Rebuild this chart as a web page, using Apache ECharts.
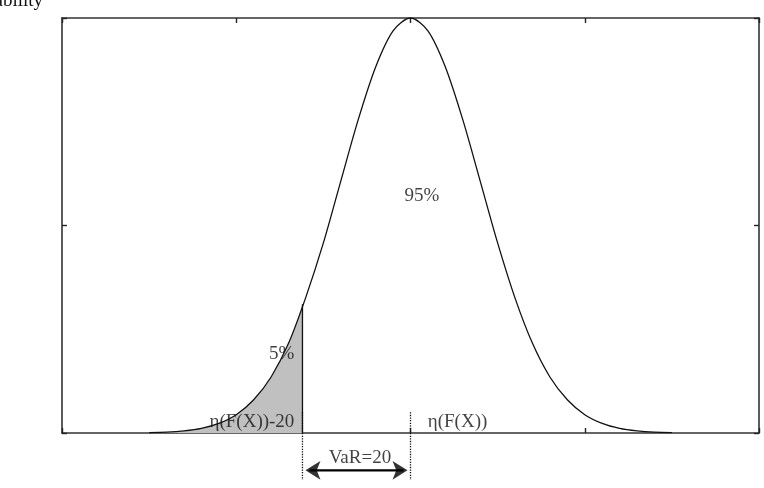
<!DOCTYPE html>
<html>
<head>
<meta charset="utf-8">
<script src="https://cdn.jsdelivr.net/npm/echarts@6/dist/echarts.min.js"></script>
<style>
  html, body { margin: 0; padding: 0; background: #fff; }
  #chart { width: 764px; height: 488px; }
</style>
</head>
<body>
<div id="chart"></div>
<script>
    // curve (x in axis units, mean at 0, y relative to peak)
    var curveX = [-1.5, -1.4, -1.3, -1.2, -1.1, -1.0, -0.9, -0.8, -0.7, -0.6, -0.5, -0.4, -0.3, -0.2, -0.1,
                  0, 0.1, 0.2, 0.3, 0.4, 0.5, 0.6, 0.7, 0.8, 0.9, 1.0, 1.1, 1.2, 1.3, 1.4, 1.5];
    var curveY = [0.001, 0.002, 0.005, 0.011, 0.023, 0.044, 0.080, 0.135, 0.216, 0.328, 0.458, 0.607, 0.755, 0.882, 0.969,
                  1.0, 0.969, 0.882, 0.755, 0.607, 0.458, 0.325, 0.216, 0.135, 0.080, 0.044, 0.023, 0.011, 0.005, 0.002, 0.001];
    var varX = -0.62;      // η(F(X))-20
    var meanX = 0;         // η(F(X))
    var varEdgeY = 0.31;   // height of the curve at the cut
    var xTicks = [-2, 2, 1];      // min, max, interval
    var yTicks = [0, 1, 0.5];

    var curveData = curveX.map(function (x, i) { return [x, curveY[i]]; });
    var shadeData = curveData.filter(function (p) { return p[0] < varX; });
    shadeData.push([varX, varEdgeY]);

    var serif = '"Liberation Serif", "DejaVu Serif", serif';
    var arrowY = -0.09;

    function axis(pos, range) {
        return {
            type: 'value', position: pos,
            min: range[0], max: range[1], interval: range[2],
            axisLine: { show: true, onZero: false, lineStyle: { color: '#333', width: 1.6 } },
            axisTick: { show: true, inside: true, length: 5, lineStyle: { color: '#222', width: 1.4 } },
            axisLabel: { show: false },
            splitLine: { show: false }
        };
    }

    function note(text, x, y) {
        return {
            value: [x, y],
            label: {
                show: true, position: [0, 0], align: 'center', verticalAlign: 'middle',
                formatter: text, fontFamily: serif, fontSize: 19, color: '#111'
            }
        };
    }

    var chart = echarts.init(document.getElementById('chart'));
    chart.setOption({
        animation: false,
        grid: { left: 62, right: 5, top: 18, bottom: 55 },
        xAxis: [axis('bottom', xTicks), axis('top', xTicks)],
        yAxis: [axis('left', yTicks), axis('right', yTicks)],
        graphic: [{
            type: 'text', x: 43, y: 11,
            style: { text: 'Probability', align: 'right', verticalAlign: 'bottom',
                     font: '19px ' + serif, fill: '#111' }
        }],
        series: [
            {   // shaded 5% tail
                type: 'line', data: shadeData, smooth: 0.3, symbol: 'none', z: 1,
                lineStyle: { width: 0 },
                areaStyle: { color: '#c0c0c0', opacity: 1 }
            },
            {   // the distribution curve
                type: 'line', data: curveData, smooth: 0.3, symbol: 'none',
                lineStyle: { color: '#111', width: 1.3 }
            },
            {   // solid edge of the tail
                type: 'line', data: [[varX, 0], [varX, varEdgeY]], symbol: 'none',
                lineStyle: { color: '#111', width: 1.3 }
            },
            {   // dotted markers below the axis
                type: 'line', data: [[varX, 0.05], [varX, -0.113]], symbol: 'none', clip: false,
                lineStyle: { color: '#111', width: 1.3, type: 'dotted' }
            },
            {
                type: 'line', data: [[meanX, 0.05], [meanX, -0.113]], symbol: 'none', clip: false,
                lineStyle: { color: '#111', width: 1.3, type: 'dotted' }
            },
            {   // VaR arrow shaft
                type: 'line', data: [[varX + 0.04, arrowY], [meanX - 0.04, arrowY]], symbol: 'none', clip: false,
                lineStyle: { color: '#000', width: 2.4 }
            },
            {   // arrow heads
                type: 'scatter', clip: false, silent: true, symbol: 'arrow', symbolSize: [14, 15],
                itemStyle: { color: '#000' },
                data: [
                    { value: [varX, arrowY], symbolRotate: 90, symbolOffset: [3, 0] },
                    { value: [meanX, arrowY], symbolRotate: -90, symbolOffset: [-3, 0] }
                ]
            },
            {   // text notes
                type: 'scatter', symbolSize: 0, clip: false, silent: true, z: 10,
                data: [
                    note('95%', 0.065, 0.572),
                    note('5%', -0.74, 0.19),
                    note('η(F(X))-20', -0.91, 0.026),
                    note('η(F(X))', 0.27, 0.027),
                    note('VaR=20', -0.29, -0.06)
                ]
            }
        ]
    });
</script>
</body>
</html>
